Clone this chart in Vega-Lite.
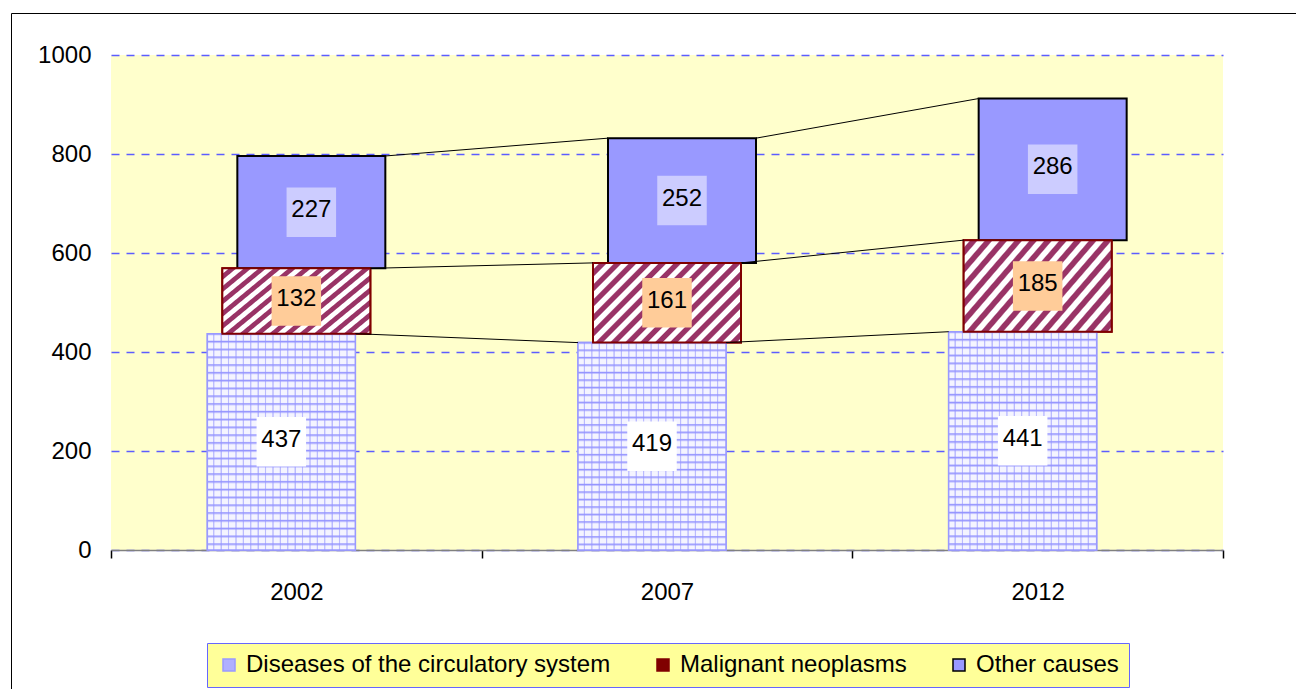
{
  "$schema": "https://vega.github.io/schema/vega-lite/v6.json",
  "width": 1112,
  "height": 495,
  "autosize": {"type": "none"},
  "padding": {"left": 111, "top": 55, "right": 73, "bottom": 139},
  "background": "white",
  "config": {
    "view": {"fill": "#FFFFCC", "stroke": null},
    "font": "Liberation Sans",
    "axisY": {"grid": true, "gridColor": "#5C5CFF", "gridDash": [8, 7], "gridWidth": 1.5, "domain": false, "ticks": false, "labelPadding": 20, "labelFontSize": 24, "labelColor": "#000000", "tickCount": 5, "format": "d", "labelFont": "Liberation Sans"},
    "axisX": {"grid": false, "domainColor": "#808080", "domainWidth": 1.5, "tickColor": "#000000", "tickSize": 8, "tickWidth": 1.5, "tickBand": "extent", "labelFontSize": 24, "labelPadding": 22, "labelAngle": 0, "labelColor": "#000000", "labelFont": "Liberation Sans"}
  },
  "data": {
    "values": [
      {"year": "2002", "cause": "Diseases of the circulatory system", "value": 437},
      {"year": "2002", "cause": "Malignant neoplasms", "value": 132},
      {"year": "2002", "cause": "Other causes", "value": 227},
      {"year": "2007", "cause": "Diseases of the circulatory system", "value": 419},
      {"year": "2007", "cause": "Malignant neoplasms", "value": 161},
      {"year": "2007", "cause": "Other causes", "value": 252},
      {"year": "2012", "cause": "Diseases of the circulatory system", "value": 441},
      {"year": "2012", "cause": "Malignant neoplasms", "value": 185},
      {"year": "2012", "cause": "Other causes", "value": 286}
    ]
  },
  "transform": [
    {"stack": "value", "groupby": ["year"], "sort": [{"field": "cause", "order": "ascending"}], "as": ["y0", "y1"]},
    {"window": [{"op": "lead", "field": "y1", "as": "ny1"}, {"op": "lead", "field": "year", "as": "nyear"}], "groupby": ["cause"], "sort": [{"field": "year", "order": "ascending"}]}
  ],
  "encoding": {
    "x": {"field": "year", "type": "ordinal", "title": null, "scale": {"type": "band", "paddingInner": 0, "paddingOuter": 0}}
  },
  "layer": [
    {
      "transform": [{"filter": "datum.cause == 'Diseases of the circulatory system'"}],
      "mark": {"type": "bar", "width": 148, "xOffset": -15, "strokeWidth": 1.5},
      "encoding": {
        "y": {"field": "y1", "type": "quantitative", "title": null, "scale": {"domain": [0, 1000], "nice": false}},
        "y2": {"field": "y0"},
        "fill": {"field": "cause", "type": "nominal", "title": null, "scale": {"domain": ["Diseases of the circulatory system", "Malignant neoplasms", "Other causes"], "range": ["#B0B0FF", "#800000", "#9999FF"]},
          "legend": {"title": null, "orient": "none", "legendX": 96, "legendY": 588, "direction": "horizontal", "fillColor": "#FFFF99", "strokeColor": "#6666FF", "padding": 10, "symbolType": "square", "symbolSize": 144, "symbolStrokeWidth": 1.5, "labelFontSize": 24, "labelFont": "Liberation Sans", "labelOffset": 5, "columnPadding": 40, "labelLimit": 0, "labelColor": "#000000"}},
        "stroke": {"field": "cause", "type": "nominal", "title": null, "scale": {"domain": ["Diseases of the circulatory system", "Malignant neoplasms", "Other causes"], "range": ["#9999FF", "#800000", "#000000"]}}
      }
    },
    {
      "transform": [{"filter": "datum.cause == 'Malignant neoplasms'"}],
      "mark": {"type": "bar", "width": 148, "xOffset": 0, "strokeWidth": 2},
      "encoding": {
        "y": {"field": "y1", "type": "quantitative", "title": null},
        "y2": {"field": "y0"},
        "fill": {"field": "cause", "type": "nominal", "title": null},
        "stroke": {"field": "cause", "type": "nominal", "title": null}
      }
    },
    {
      "transform": [{"filter": "datum.cause == 'Other causes'"}],
      "mark": {"type": "bar", "width": 148, "xOffset": 15, "strokeWidth": 2},
      "encoding": {
        "y": {"field": "y1", "type": "quantitative", "title": null},
        "y2": {"field": "y0"},
        "fill": {"field": "cause", "type": "nominal", "title": null},
        "stroke": {"field": "cause", "type": "nominal", "title": null}
      }
    },
    {
      "transform": [{"filter": "datum.cause == 'Diseases of the circulatory system'"}],
      "mark": {
        "type": "bar", "width": 148, "xOffset": -15, "stroke": "#9999FF", "strokeWidth": 1.5,
        "fill": {"gradient": "linear", "x1": 0, "y1": 0, "x2": 0, "y2": 1, "stops": [
          {"offset": 0, "color": "#9494FF"}, {"offset": 0.010, "color": "#F4F4FF"}, {"offset": 0.030, "color": "#F4F4FF"},
          {"offset": 0.036, "color": "#9494FF"}, {"offset": 0.046, "color": "#F4F4FF"}, {"offset": 0.066, "color": "#F4F4FF"},
          {"offset": 0.072, "color": "#9494FF"}, {"offset": 0.082, "color": "#F4F4FF"}, {"offset": 0.102, "color": "#F4F4FF"},
          {"offset": 0.108, "color": "#9494FF"}, {"offset": 0.118, "color": "#F4F4FF"}, {"offset": 0.138, "color": "#F4F4FF"},
          {"offset": 0.144, "color": "#9494FF"}, {"offset": 0.154, "color": "#F4F4FF"}, {"offset": 0.174, "color": "#F4F4FF"},
          {"offset": 0.180, "color": "#9494FF"}, {"offset": 0.190, "color": "#F4F4FF"}, {"offset": 0.210, "color": "#F4F4FF"},
          {"offset": 0.216, "color": "#9494FF"}, {"offset": 0.226, "color": "#F4F4FF"}, {"offset": 0.246, "color": "#F4F4FF"},
          {"offset": 0.252, "color": "#9494FF"}, {"offset": 0.262, "color": "#F4F4FF"}, {"offset": 0.282, "color": "#F4F4FF"},
          {"offset": 0.288, "color": "#9494FF"}, {"offset": 0.298, "color": "#F4F4FF"}, {"offset": 0.318, "color": "#F4F4FF"},
          {"offset": 0.324, "color": "#9494FF"}, {"offset": 0.334, "color": "#F4F4FF"}, {"offset": 0.354, "color": "#F4F4FF"},
          {"offset": 0.360, "color": "#9494FF"}, {"offset": 0.370, "color": "#F4F4FF"}, {"offset": 0.390, "color": "#F4F4FF"},
          {"offset": 0.396, "color": "#9494FF"}, {"offset": 0.406, "color": "#F4F4FF"}, {"offset": 0.426, "color": "#F4F4FF"},
          {"offset": 0.432, "color": "#9494FF"}, {"offset": 0.442, "color": "#F4F4FF"}, {"offset": 0.462, "color": "#F4F4FF"},
          {"offset": 0.468, "color": "#9494FF"}, {"offset": 0.478, "color": "#F4F4FF"}, {"offset": 0.498, "color": "#F4F4FF"},
          {"offset": 0.504, "color": "#9494FF"}, {"offset": 0.514, "color": "#F4F4FF"}, {"offset": 0.534, "color": "#F4F4FF"},
          {"offset": 0.540, "color": "#9494FF"}, {"offset": 0.550, "color": "#F4F4FF"}, {"offset": 0.570, "color": "#F4F4FF"},
          {"offset": 0.576, "color": "#9494FF"}, {"offset": 0.586, "color": "#F4F4FF"}, {"offset": 0.606, "color": "#F4F4FF"},
          {"offset": 0.612, "color": "#9494FF"}, {"offset": 0.622, "color": "#F4F4FF"}, {"offset": 0.642, "color": "#F4F4FF"},
          {"offset": 0.648, "color": "#9494FF"}, {"offset": 0.658, "color": "#F4F4FF"}, {"offset": 0.678, "color": "#F4F4FF"},
          {"offset": 0.684, "color": "#9494FF"}, {"offset": 0.694, "color": "#F4F4FF"}, {"offset": 0.714, "color": "#F4F4FF"},
          {"offset": 0.720, "color": "#9494FF"}, {"offset": 0.730, "color": "#F4F4FF"}, {"offset": 0.750, "color": "#F4F4FF"},
          {"offset": 0.756, "color": "#9494FF"}, {"offset": 0.766, "color": "#F4F4FF"}, {"offset": 0.786, "color": "#F4F4FF"},
          {"offset": 0.792, "color": "#9494FF"}, {"offset": 0.802, "color": "#F4F4FF"}, {"offset": 0.822, "color": "#F4F4FF"},
          {"offset": 0.828, "color": "#9494FF"}, {"offset": 0.838, "color": "#F4F4FF"}, {"offset": 0.858, "color": "#F4F4FF"},
          {"offset": 0.864, "color": "#9494FF"}, {"offset": 0.874, "color": "#F4F4FF"}, {"offset": 0.894, "color": "#F4F4FF"},
          {"offset": 0.900, "color": "#9494FF"}, {"offset": 0.910, "color": "#F4F4FF"}, {"offset": 0.930, "color": "#F4F4FF"},
          {"offset": 0.936, "color": "#9494FF"}, {"offset": 0.946, "color": "#F4F4FF"}, {"offset": 0.966, "color": "#F4F4FF"},
          {"offset": 0.972, "color": "#9494FF"}, {"offset": 0.982, "color": "#F4F4FF"}, {"offset": 1, "color": "#F4F4FF"}
        ]}
      },
      "encoding": {
        "y": {"field": "y1", "type": "quantitative", "title": null},
        "y2": {"field": "y0"}
      }
    },
    {
      "transform": [{"filter": "datum.cause == 'Diseases of the circulatory system'"}],
      "mark": {
        "type": "bar", "width": 148, "xOffset": -15, "strokeWidth": 0,
        "fill": {"gradient": "linear", "x1": 0, "y1": 0, "x2": 1, "y2": 0, "stops": [
          {"offset": 0, "color": "rgba(148,148,255,0)"}, {"offset": 0.036, "color": "rgba(148,148,255,0)"}, {"offset": 0.042, "color": "rgba(148,148,255,0.6)"}, {"offset": 0.046, "color": "rgba(148,148,255,0.6)"},
          {"offset": 0.05, "color": "rgba(148,148,255,0)"}, {"offset": 0.086, "color": "rgba(148,148,255,0)"}, {"offset": 0.092, "color": "rgba(148,148,255,0.6)"}, {"offset": 0.096, "color": "rgba(148,148,255,0.6)"},
          {"offset": 0.10, "color": "rgba(148,148,255,0)"}, {"offset": 0.136, "color": "rgba(148,148,255,0)"}, {"offset": 0.142, "color": "rgba(148,148,255,0.6)"}, {"offset": 0.146, "color": "rgba(148,148,255,0.6)"},
          {"offset": 0.15, "color": "rgba(148,148,255,0)"}, {"offset": 0.186, "color": "rgba(148,148,255,0)"}, {"offset": 0.192, "color": "rgba(148,148,255,0.6)"}, {"offset": 0.196, "color": "rgba(148,148,255,0.6)"},
          {"offset": 0.20, "color": "rgba(148,148,255,0)"}, {"offset": 0.236, "color": "rgba(148,148,255,0)"}, {"offset": 0.242, "color": "rgba(148,148,255,0.6)"}, {"offset": 0.246, "color": "rgba(148,148,255,0.6)"},
          {"offset": 0.25, "color": "rgba(148,148,255,0)"}, {"offset": 0.286, "color": "rgba(148,148,255,0)"}, {"offset": 0.292, "color": "rgba(148,148,255,0.6)"}, {"offset": 0.296, "color": "rgba(148,148,255,0.6)"},
          {"offset": 0.30, "color": "rgba(148,148,255,0)"}, {"offset": 0.336, "color": "rgba(148,148,255,0)"}, {"offset": 0.342, "color": "rgba(148,148,255,0.6)"}, {"offset": 0.346, "color": "rgba(148,148,255,0.6)"},
          {"offset": 0.35, "color": "rgba(148,148,255,0)"}, {"offset": 0.386, "color": "rgba(148,148,255,0)"}, {"offset": 0.392, "color": "rgba(148,148,255,0.6)"}, {"offset": 0.396, "color": "rgba(148,148,255,0.6)"},
          {"offset": 0.40, "color": "rgba(148,148,255,0)"}, {"offset": 0.436, "color": "rgba(148,148,255,0)"}, {"offset": 0.442, "color": "rgba(148,148,255,0.6)"}, {"offset": 0.446, "color": "rgba(148,148,255,0.6)"},
          {"offset": 0.45, "color": "rgba(148,148,255,0)"}, {"offset": 0.486, "color": "rgba(148,148,255,0)"}, {"offset": 0.492, "color": "rgba(148,148,255,0.6)"}, {"offset": 0.496, "color": "rgba(148,148,255,0.6)"},
          {"offset": 0.50, "color": "rgba(148,148,255,0)"}, {"offset": 0.536, "color": "rgba(148,148,255,0)"}, {"offset": 0.542, "color": "rgba(148,148,255,0.6)"}, {"offset": 0.546, "color": "rgba(148,148,255,0.6)"},
          {"offset": 0.55, "color": "rgba(148,148,255,0)"}, {"offset": 0.586, "color": "rgba(148,148,255,0)"}, {"offset": 0.592, "color": "rgba(148,148,255,0.6)"}, {"offset": 0.596, "color": "rgba(148,148,255,0.6)"},
          {"offset": 0.60, "color": "rgba(148,148,255,0)"}, {"offset": 0.636, "color": "rgba(148,148,255,0)"}, {"offset": 0.642, "color": "rgba(148,148,255,0.6)"}, {"offset": 0.646, "color": "rgba(148,148,255,0.6)"},
          {"offset": 0.65, "color": "rgba(148,148,255,0)"}, {"offset": 0.686, "color": "rgba(148,148,255,0)"}, {"offset": 0.692, "color": "rgba(148,148,255,0.6)"}, {"offset": 0.696, "color": "rgba(148,148,255,0.6)"},
          {"offset": 0.70, "color": "rgba(148,148,255,0)"}, {"offset": 0.736, "color": "rgba(148,148,255,0)"}, {"offset": 0.742, "color": "rgba(148,148,255,0.6)"}, {"offset": 0.746, "color": "rgba(148,148,255,0.6)"},
          {"offset": 0.75, "color": "rgba(148,148,255,0)"}, {"offset": 0.786, "color": "rgba(148,148,255,0)"}, {"offset": 0.792, "color": "rgba(148,148,255,0.6)"}, {"offset": 0.796, "color": "rgba(148,148,255,0.6)"},
          {"offset": 0.80, "color": "rgba(148,148,255,0)"}, {"offset": 0.836, "color": "rgba(148,148,255,0)"}, {"offset": 0.842, "color": "rgba(148,148,255,0.6)"}, {"offset": 0.846, "color": "rgba(148,148,255,0.6)"},
          {"offset": 0.85, "color": "rgba(148,148,255,0)"}, {"offset": 0.886, "color": "rgba(148,148,255,0)"}, {"offset": 0.892, "color": "rgba(148,148,255,0.6)"}, {"offset": 0.896, "color": "rgba(148,148,255,0.6)"},
          {"offset": 0.90, "color": "rgba(148,148,255,0)"}, {"offset": 0.936, "color": "rgba(148,148,255,0)"}, {"offset": 0.942, "color": "rgba(148,148,255,0.6)"}, {"offset": 0.946, "color": "rgba(148,148,255,0.6)"},
          {"offset": 0.95, "color": "rgba(148,148,255,0)"}, {"offset": 1, "color": "rgba(148,148,255,0)"}
        ]}
      },
      "encoding": {
        "y": {"field": "y1", "type": "quantitative", "title": null},
        "y2": {"field": "y0"}
      }
    },
    {
      "transform": [{"filter": "datum.cause == 'Malignant neoplasms'"}],
      "mark": {
        "type": "bar", "width": 148, "xOffset": 0, "stroke": "#800000", "strokeWidth": 2,
        "fill": {"gradient": "linear", "x1": 0, "y1": 0, "x2": 1.253, "y2": 0.670, "stops": [
          {"offset": 0, "color": "#FFFFFF"}, {"offset": 0.025, "color": "#FFFFFF"}, {"offset": 0.03125, "color": "#993366"}, {"offset": 0.05625, "color": "#993366"},
          {"offset": 0.0625, "color": "#FFFFFF"}, {"offset": 0.0875, "color": "#FFFFFF"}, {"offset": 0.09375, "color": "#993366"}, {"offset": 0.11875, "color": "#993366"},
          {"offset": 0.125, "color": "#FFFFFF"}, {"offset": 0.15, "color": "#FFFFFF"}, {"offset": 0.15625, "color": "#993366"}, {"offset": 0.18125, "color": "#993366"},
          {"offset": 0.1875, "color": "#FFFFFF"}, {"offset": 0.2125, "color": "#FFFFFF"}, {"offset": 0.21875, "color": "#993366"}, {"offset": 0.24375, "color": "#993366"},
          {"offset": 0.25, "color": "#FFFFFF"}, {"offset": 0.275, "color": "#FFFFFF"}, {"offset": 0.28125, "color": "#993366"}, {"offset": 0.30625, "color": "#993366"},
          {"offset": 0.3125, "color": "#FFFFFF"}, {"offset": 0.3375, "color": "#FFFFFF"}, {"offset": 0.34375, "color": "#993366"}, {"offset": 0.36875, "color": "#993366"},
          {"offset": 0.375, "color": "#FFFFFF"}, {"offset": 0.4, "color": "#FFFFFF"}, {"offset": 0.40625, "color": "#993366"}, {"offset": 0.43125, "color": "#993366"},
          {"offset": 0.4375, "color": "#FFFFFF"}, {"offset": 0.4625, "color": "#FFFFFF"}, {"offset": 0.46875, "color": "#993366"}, {"offset": 0.49375, "color": "#993366"},
          {"offset": 0.5, "color": "#FFFFFF"}, {"offset": 0.525, "color": "#FFFFFF"}, {"offset": 0.53125, "color": "#993366"}, {"offset": 0.55625, "color": "#993366"},
          {"offset": 0.5625, "color": "#FFFFFF"}, {"offset": 0.5875, "color": "#FFFFFF"}, {"offset": 0.59375, "color": "#993366"}, {"offset": 0.61875, "color": "#993366"},
          {"offset": 0.625, "color": "#FFFFFF"}, {"offset": 0.65, "color": "#FFFFFF"}, {"offset": 0.65625, "color": "#993366"}, {"offset": 0.68125, "color": "#993366"},
          {"offset": 0.6875, "color": "#FFFFFF"}, {"offset": 0.7125, "color": "#FFFFFF"}, {"offset": 0.71875, "color": "#993366"}, {"offset": 0.74375, "color": "#993366"},
          {"offset": 0.75, "color": "#FFFFFF"}, {"offset": 0.775, "color": "#FFFFFF"}, {"offset": 0.78125, "color": "#993366"}, {"offset": 0.80625, "color": "#993366"},
          {"offset": 0.8125, "color": "#FFFFFF"}, {"offset": 0.8375, "color": "#FFFFFF"}, {"offset": 0.84375, "color": "#993366"}, {"offset": 0.86875, "color": "#993366"},
          {"offset": 0.875, "color": "#FFFFFF"}, {"offset": 0.9, "color": "#FFFFFF"}, {"offset": 0.90625, "color": "#993366"}, {"offset": 0.93125, "color": "#993366"},
          {"offset": 0.9375, "color": "#FFFFFF"}, {"offset": 0.9625, "color": "#FFFFFF"}, {"offset": 0.96875, "color": "#993366"}, {"offset": 0.99375, "color": "#993366"},
          {"offset": 1, "color": "#FFFFFF"}
        ]}
      },
      "encoding": {
        "y": {"field": "y1", "type": "quantitative", "title": null},
        "y2": {"field": "y0"}
      }
    },
    {
      "transform": [{"filter": "datum.cause == 'Diseases of the circulatory system' && datum.nyear != null"}],
      "mark": {"type": "rule", "color": "#000000", "strokeWidth": 1, "xOffset": 59, "x2Offset": -89},
      "encoding": {
        "y": {"field": "y1", "type": "quantitative", "title": null},
        "x2": {"field": "nyear"},
        "y2": {"field": "ny1"}
      }
    },
    {
      "transform": [{"filter": "datum.cause == 'Malignant neoplasms' && datum.nyear != null"}],
      "mark": {"type": "rule", "color": "#000000", "strokeWidth": 1, "xOffset": 74, "x2Offset": -74},
      "encoding": {
        "y": {"field": "y1", "type": "quantitative", "title": null},
        "x2": {"field": "nyear"},
        "y2": {"field": "ny1"}
      }
    },
    {
      "transform": [{"filter": "datum.cause == 'Other causes' && datum.nyear != null"}],
      "mark": {"type": "rule", "color": "#000000", "strokeWidth": 1, "xOffset": 89, "x2Offset": -59},
      "encoding": {
        "y": {"field": "y1", "type": "quantitative", "title": null},
        "x2": {"field": "nyear"},
        "y2": {"field": "ny1"}
      }
    },
    {
      "transform": [
        {"fold": ["y0", "y1"], "as": ["k", "v"]},
        {"aggregate": [{"op": "mean", "field": "v", "as": "mid"}], "groupby": ["year", "cause", "value"]}
      ],
      "encoding": {
        "y": {"field": "mid", "type": "quantitative", "title": null}
      },
      "layer": [
        {
          "transform": [{"filter": "datum.cause == 'Diseases of the circulatory system'"}],
          "mark": {"type": "square", "size": 2450, "filled": true, "color": "#FFFFFF", "strokeWidth": 0, "xOffset": -15},
          "encoding": {
            "opacity": {"field": "year", "type": "nominal", "scale": {"range": [1, 1, 1]},
              "legend": {"title": null, "orient": "none", "legendX": -100, "legendY": -42, "padding": 700, "strokeColor": "#000000", "symbolSize": 1, "labelExpr": "''", "direction": "vertical"}}
          }
        },
        {
          "transform": [{"filter": "datum.cause == 'Malignant neoplasms'"}],
          "mark": {"type": "square", "size": 2450, "filled": true, "color": "#FFCC99", "opacity": 1, "strokeWidth": 0, "xOffset": 0}
        },
        {
          "transform": [{"filter": "datum.cause == 'Other causes'"}],
          "mark": {"type": "square", "size": 2450, "filled": true, "color": "#CCCCFF", "opacity": 1, "strokeWidth": 0, "xOffset": 15}
        },
        {
          "transform": [{"filter": "datum.cause == 'Diseases of the circulatory system'"}],
          "mark": {"type": "text", "fontSize": 24, "font": "Liberation Sans", "color": "#000000", "baseline": "middle", "align": "center", "dy": -2, "xOffset": -15},
          "encoding": {"text": {"field": "value", "type": "quantitative"}}
        },
        {
          "transform": [{"filter": "datum.cause == 'Malignant neoplasms'"}],
          "mark": {"type": "text", "fontSize": 24, "font": "Liberation Sans", "color": "#000000", "baseline": "middle", "align": "center", "dy": -2, "xOffset": 0},
          "encoding": {"text": {"field": "value", "type": "quantitative"}}
        },
        {
          "transform": [{"filter": "datum.cause == 'Other causes'"}],
          "mark": {"type": "text", "fontSize": 24, "font": "Liberation Sans", "color": "#000000", "baseline": "middle", "align": "center", "dy": -2, "xOffset": 15},
          "encoding": {"text": {"field": "value", "type": "quantitative"}}
        }
      ]
    }
  ]
}
